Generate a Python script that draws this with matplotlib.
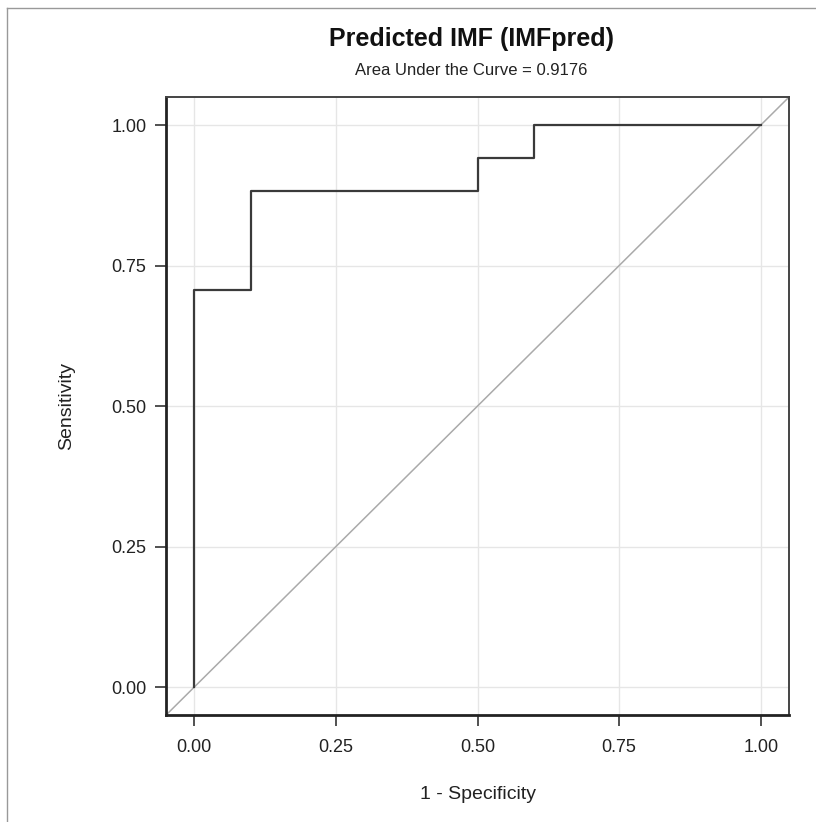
import matplotlib
matplotlib.use("Agg")
import matplotlib.pyplot as plt
from matplotlib.lines import Line2D

# ROC curve steps (17 positives, 10 negatives)
fpr = [0.0, 0.0, 0.1, 0.1, 0.5, 0.5, 0.6, 0.6, 1.0]
tpr = [0.0, 12/17, 12/17, 15/17, 15/17, 16/17, 16/17, 1.0, 1.0]
ticks = [0.0, 0.25, 0.5, 0.75, 1.0]
tick_labels = ["0.00", "0.25", "0.50", "0.75", "1.00"]
title = "Predicted IMF (IMFpred)"
subtitle = "Area Under the Curve = 0.9176"


def main():
    plt.rcParams['font.family'] = ['Liberation Sans', 'DejaVu Sans']
    fig = plt.figure(figsize=(8.16, 8.22), dpi=100)
    ax = fig.add_axes([0.2034, 0.130, 0.7636, 0.752])

    ax.grid(True, color="#e6e6e6", linewidth=1.0)
    ax.set_axisbelow(True)
    ax.plot([0, 1], [0, 1], transform=ax.transAxes, color="#aaaaaa", linewidth=1.1)
    ax.plot(fpr, tpr, color="#3a3a3a", linewidth=1.6)

    ax.set_xlim(-0.05, 1.05)
    ax.set_ylim(-0.05, 1.05)
    ax.set_xticks(ticks)
    ax.set_yticks(ticks)
    ax.set_xticklabels(tick_labels)
    ax.set_yticklabels(tick_labels)
    ax.tick_params(direction="out", length=8, width=1.2, color="#333333",
                   labelsize=13, labelcolor="#222222")
    ax.tick_params(axis="x", pad=9)
    ax.tick_params(axis="y", pad=6)
    for side in ["left", "bottom"]:
        ax.spines[side].set_linewidth(2.0)
        ax.spines[side].set_color("#222222")
    for side in ["top", "right"]:
        ax.spines[side].set_linewidth(1.4)
        ax.spines[side].set_color("#444444")

    ax.set_xlabel("1 - Specificity", fontsize=14, color="#222222", labelpad=22)
    ax.set_ylabel("Sensitivity", fontsize=14, color="#222222", labelpad=26)

    fig.text(0.578, 0.953, title, ha="center", va="center",
             fontsize=18, fontweight="bold", color="#111111")
    fig.text(0.578, 0.914, subtitle, ha="center", va="center",
             fontsize=12, color="#222222")

    # thin frame at left and top of the picture
    fig.add_artist(Line2D([0.0086, 0.0086], [0.0, 0.990], transform=fig.transFigure,
                          color="#999999", linewidth=1.0))
    fig.add_artist(Line2D([0.0086, 1.0], [0.990, 0.990], transform=fig.transFigure,
                          color="#999999", linewidth=1.0))

    fig.savefig("out.png", dpi=100, facecolor="white")


if __name__ == '__main__':
    main()
